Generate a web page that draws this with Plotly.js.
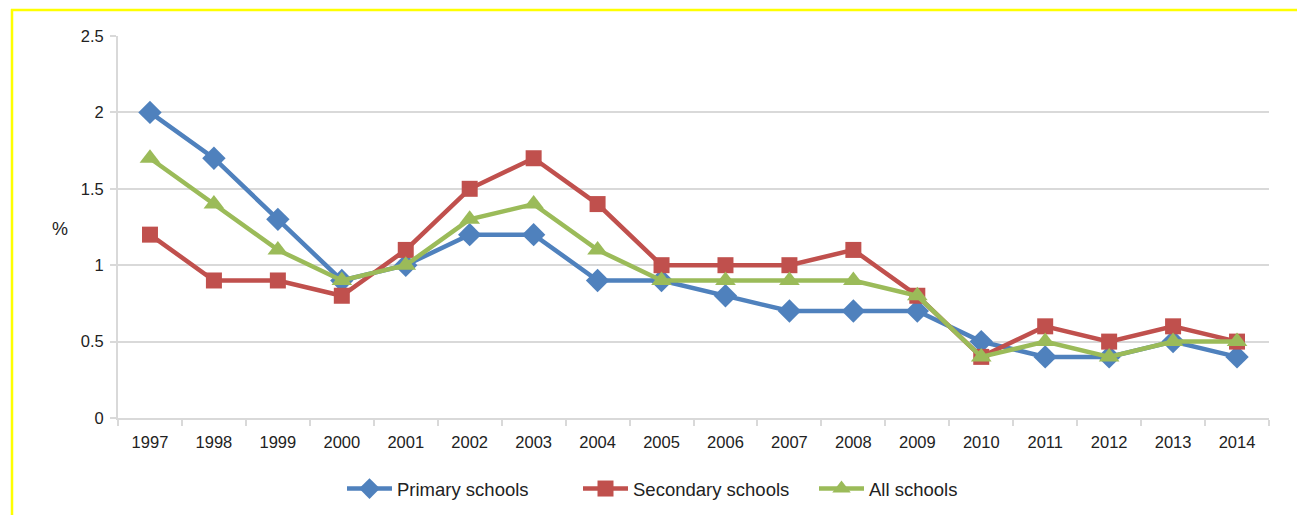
<!DOCTYPE html>
<html>
<head>
<meta charset="utf-8">
<script src="https://cdn.plot.ly/plotly-3.0.1.min.js"></script>
<style>
  html, body { margin: 0; padding: 0; background: #ffffff; }
  #chart { width: 1301px; height: 515px; }
</style>
</head>
<body>
<div id="chart"></div>
<script>
const years = ['1997','1998','1999','2000','2001','2002','2003','2004','2005','2006','2007','2008','2009','2010','2011','2012','2013','2014'];
const primary   = [2.0, 1.7, 1.3, 0.9, 1.0, 1.2, 1.2, 0.9, 0.9, 0.8, 0.7, 0.7, 0.7, 0.5, 0.4, 0.4, 0.5, 0.4];
const secondary = [1.2, 0.9, 0.9, 0.8, 1.1, 1.5, 1.7, 1.4, 1.0, 1.0, 1.0, 1.1, 0.8, 0.4, 0.6, 0.5, 0.6, 0.5];
const allSchools = [1.7, 1.4, 1.1, 0.9, 1.0, 1.3, 1.4, 1.1, 0.9, 0.9, 0.9, 0.9, 0.8, 0.4, 0.5, 0.4, 0.5, 0.5];
const seriesNames = ['Primary schools', 'Secondary schools', 'All schools'];
const yTickVals = [0, 0.5, 1, 1.5, 2, 2.5];
const yTickText = ['0', '0.5', '1', '1.5', '2', '2.5'];

const FONT = '"Liberation Sans", Arial, sans-serif';

const traces = [
  {x: years, y: primary, name: seriesNames[0], type: 'scatter', mode: 'lines+markers',
   line: {color: '#4F81BD', width: 4.5}, marker: {symbol: 'diamond', size: 18, color: '#4F81BD'}},
  {x: years, y: secondary, name: seriesNames[1], type: 'scatter', mode: 'lines+markers',
   line: {color: '#C0504D', width: 4.5}, marker: {symbol: 'square', size: 16, color: '#C0504D'}},
  {x: years, y: allSchools, name: seriesNames[2], type: 'scatter', mode: 'lines+markers',
   line: {color: '#9BBB59', width: 4.5}, marker: {symbol: 'triangle-up', size: 18, color: '#9BBB59'}}
];

const L = 118, R = 1269, T = 36, B = 418;
const W = R - L, H = B - T;
const px = v => (v - L) / W;
const py = v => (B - v) / H;

const layout = {
  width: 1301, height: 515,
  margin: {l: L, r: 1301 - R, t: T, b: 515 - B, autoexpand: false},
  paper_bgcolor: '#ffffff', plot_bgcolor: '#ffffff',
  font: {family: FONT, size: 16, color: '#222222'},
  showlegend: true,
  legend: {orientation: 'h', x: px(342), xanchor: 'left', y: py(489), yanchor: 'middle',
           font: {family: FONT, size: 18.5, color: '#222222'}, itemwidth: 45, tracegroupgap: 0,
           entrywidth: 176},
  xaxis: {type: 'category', range: [-0.5, years.length - 0.5], showgrid: false, showline: true, linecolor: '#d9d9d9', linewidth: 2,
          ticks: 'outside', tickson: 'boundaries', ticklen: 6, tickcolor: '#d9d9d9', tickwidth: 2, ticklabelstandoff: 8,
          tickfont: {family: FONT, size: 16.5, color: '#222222'}, zeroline: false, fixedrange: true, automargin: false},
  yaxis: {range: [0, 2.5], tickvals: yTickVals, ticktext: yTickText, showgrid: true, gridcolor: '#d9d9d9', gridwidth: 2,
          showline: true, linecolor: '#d9d9d9', linewidth: 2, ticks: 'outside', ticklen: 6, tickcolor: '#d9d9d9', tickwidth: 2,
          ticklabelstandoff: 3, automargin: false,
          zeroline: false, tickfont: {family: FONT, size: 16.5, color: '#222222'}, fixedrange: true},
  annotations: [
    {text: '%', xref: 'paper', yref: 'paper', x: px(60), y: py(229), showarrow: false,
     font: {family: FONT, size: 18, color: '#222222'}, xanchor: 'center', yanchor: 'middle'}
  ],
  shapes: [
    {type: 'line', xref: 'paper', yref: 'paper', x0: px(11), x1: px(1297), y0: py(10), y1: py(10),
     line: {color: '#FFFF00', width: 2.5}},
    {type: 'line', xref: 'paper', yref: 'paper', x0: px(12), x1: px(12), y0: py(9), y1: py(520),
     line: {color: '#FFFF00', width: 2.5}}
  ]
};

Plotly.newPlot('chart', traces, layout, {displayModeBar: false, staticPlot: true});
</script>
</body>
</html>
